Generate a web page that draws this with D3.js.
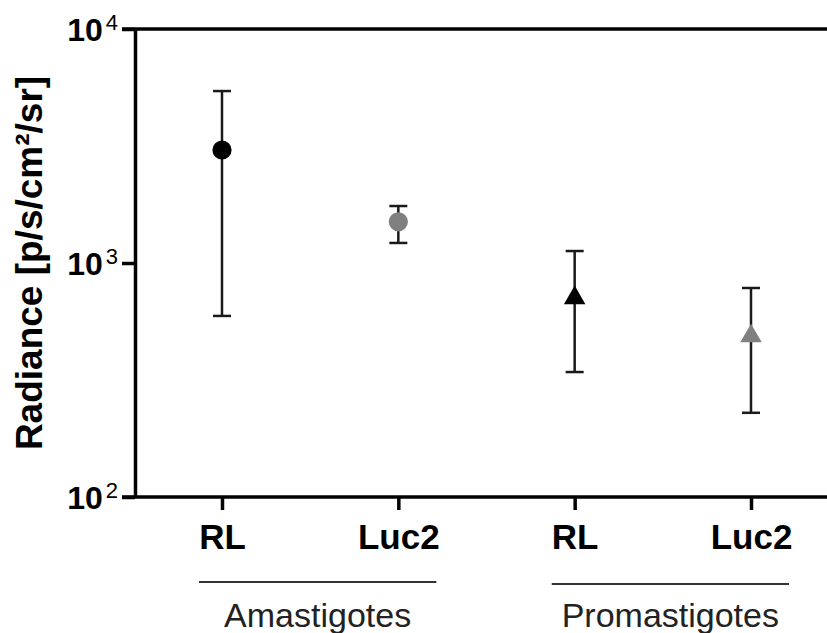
<!DOCTYPE html>
<html>
<head>
<meta charset="utf-8">
<script src="https://cdn.jsdelivr.net/npm/d3@7"></script>
<style>
  html, body { margin: 0; padding: 0; background: #fff; }
  svg { display: block; }
  text { font-family: Arial, "Liberation Sans", Helvetica, sans-serif; }
</style>
</head>
<body>
<svg id="chart" width="827" height="633"></svg>
<script>
// ---- data ----
const categories = ["RL", "Luc2", "RL", "Luc2"];
const groups = ["Amastigotes", "Promastigotes"];
const groupOf = [0, 0, 1, 1];
const means = [3040, 1500, 723, 497];
const upper = [5430, 1752, 1125, 782];
const lower = [594, 1218, 342, 229];
const yTicks = [100, 1000, 10000];
const yLabel = "Radiance [p/s/cm²/sr]";

// ---- styles ----
const markerColor = { RL: "#000000", Luc2: "#808080" };
const markerShape = [d3.symbolCircle, d3.symbolCircle, d3.symbolTriangle, d3.symbolTriangle];
const markerSize = [290, 290, 200, 200];

const svg = d3.select("#chart");
const W = 827;
const axisX = 135, plotTop = 29, plotBottom = 497;

const y = d3.scaleLog().domain([100, 10000]).range([plotBottom, plotTop]);
const x = d3.scalePoint().domain(d3.range(categories.length)).range([222, 751]);

// top frame line
svg.append("line")
  .attr("x1", axisX - 13).attr("x2", W).attr("y1", y(10000)).attr("y2", y(10000))
  .attr("stroke", "#000").attr("stroke-width", 3.5);

// bottom axis line
svg.append("line")
  .attr("x1", axisX - 13).attr("x2", W).attr("y1", y(100)).attr("y2", y(100))
  .attr("stroke", "#000").attr("stroke-width", 3.5);

// y axis
const yAxis = svg.append("g")
  .attr("transform", `translate(${axisX},0)`)
  .call(d3.axisLeft(y).tickValues(yTicks).tickSize(13).tickSizeOuter(0).tickFormat(""));
yAxis.select(".domain").attr("stroke", "#000").attr("stroke-width", 3.5);
yAxis.selectAll(".tick line").attr("stroke", "#000").attr("stroke-width", 3.5);
yAxis.selectAll(".tick").each(function(d) {
  const t = d3.select(this).append("text")
    .attr("x", -17).attr("y", 11)
    .attr("text-anchor", "end")
    .attr("fill", "#000")
    .style("font-weight", "bold")
    .style("font-size", "32px");
  t.append("tspan").text("10");
  t.append("tspan").attr("dx", 3).attr("dy", -11).style("font-size", "22px").style("font-weight", "normal")
    .text(String(Math.round(Math.log10(d))));
});

// x axis ticks
const xAxis = svg.append("g")
  .attr("transform", `translate(0,${plotBottom})`)
  .call(d3.axisBottom(x).tickSize(13).tickSizeOuter(0).tickFormat(""));
xAxis.select(".domain").remove();
xAxis.selectAll(".tick line").attr("stroke", "#000").attr("stroke-width", 3.5);
xAxis.selectAll(".tick").append("text")
  .attr("y", 52)
  .attr("text-anchor", "middle")
  .attr("fill", "#000")
  .style("font-weight", "bold")
  .style("font-size", "35px")
  .text(d => categories[d]);

// group lines and labels
groups.forEach((g, gi) => {
  const idx = d3.range(categories.length).filter(i => groupOf[i] === gi);
  const x1 = x(idx[0]) - 23, x2 = x(idx[idx.length - 1]) + 38;
  const ly = 582 + gi * 2;
  svg.append("line")
    .attr("x1", x1).attr("x2", x2).attr("y1", ly).attr("y2", ly)
    .attr("stroke", "#333").attr("stroke-width", 2.2);
  svg.append("text")
    .attr("x", (x1 + x2) / 2).attr("y", 627)
    .attr("text-anchor", "middle")
    .attr("fill", "#222")
    .style("font-size", "34px")
    .text(g);
});

// y label
svg.append("text")
  .attr("transform", `translate(42,${(plotTop + plotBottom) / 2}) rotate(-90)`)
  .attr("text-anchor", "middle")
  .attr("fill", "#000")
  .style("font-weight", "bold")
  .style("font-size", "37px")
  .text(yLabel);

// error bars
const pts = svg.append("g");
const capW = 9;
categories.forEach((c, i) => {
  const cx = x(i);
  pts.append("line")
    .attr("x1", cx).attr("x2", cx).attr("y1", y(upper[i])).attr("y2", y(lower[i]))
    .attr("stroke", "#1a1a1a").attr("stroke-width", 2.5);
  [upper[i], lower[i]].forEach(v => {
    pts.append("line")
      .attr("x1", cx - capW).attr("x2", cx + capW).attr("y1", y(v)).attr("y2", y(v))
      .attr("stroke", "#1a1a1a").attr("stroke-width", 2.5);
  });
});

// markers
categories.forEach((c, i) => {
  const shape = markerShape[i];
  const dy = shape === d3.symbolTriangle ? 2 : 0;
  pts.append("path")
    .attr("d", d3.symbol().type(shape).size(markerSize[i])())
    .attr("transform", `translate(${x(i)},${y(means[i]) + dy})`)
    .attr("fill", markerColor[c]);
});
</script>
</body>
</html>
